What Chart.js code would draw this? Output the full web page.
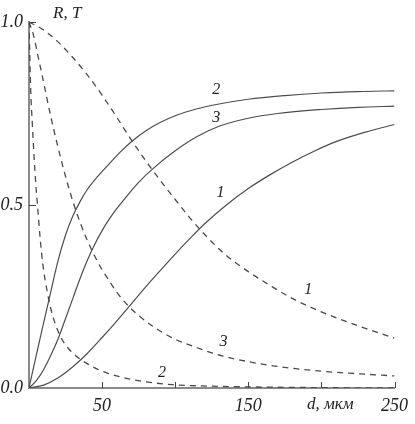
<!DOCTYPE html>
<html>
<head>
<meta charset="utf-8">
<script src="https://cdn.jsdelivr.net/npm/chart.js@4/dist/chart.umd.min.js"></script>
<style>
  html, body { margin: 0; padding: 0; background: #fff; }
  #wrap { width: 415px; height: 424px; position: relative; }
</style>
</head>
<body>
<div id="wrap"><canvas id="rt"></canvas></div>
<script>
// ---- data (d in mkm, value R or T) ----
const r1Depth = [0, 10, 20, 30, 40, 50, 60, 70, 80, 90, 100, 110, 120, 135, 150, 165, 180, 195, 210, 230, 250];
const r1Value = [0, 0.008, 0.028, 0.058, 0.095, 0.138, 0.183, 0.23, 0.277, 0.322, 0.366, 0.408, 0.448, 0.50, 0.545, 0.583, 0.617, 0.647, 0.673, 0.699, 0.72];

const r2Depth = [0, 5, 10, 15, 20, 25, 30, 35, 40, 47, 55, 62, 70, 80, 90, 100, 115, 130, 150, 175, 200, 225, 250];
const r2Value = [0, 0.09, 0.178, 0.265, 0.35, 0.418, 0.47, 0.51, 0.543, 0.578, 0.613, 0.643, 0.673, 0.703, 0.726, 0.744, 0.763, 0.776, 0.789, 0.799, 0.806, 0.81, 0.812];

const r3Depth = [0, 5, 10, 15, 20, 25, 30, 35, 40, 45, 50, 55, 60, 65, 75, 85, 100, 115, 130, 150, 170, 200, 225, 250];
const r3Value = [0, 0.02, 0.05, 0.09, 0.135, 0.19, 0.245, 0.30, 0.35, 0.393, 0.43, 0.462, 0.49, 0.515, 0.562, 0.60, 0.648, 0.687, 0.715, 0.737, 0.75, 0.761, 0.767, 0.77];

const t1Depth = [0, 10, 20, 30, 40, 50, 60, 70, 80, 90, 100, 110, 120, 135, 150, 165, 180, 200, 225, 250];
const t1Value = [1.0, 0.978, 0.945, 0.903, 0.855, 0.80, 0.74, 0.678, 0.62, 0.566, 0.515, 0.465, 0.42, 0.362, 0.318, 0.28, 0.245, 0.208, 0.17, 0.136];

const t2Depth = [0, 1.2, 2.3, 3.5, 4.6, 5.8, 7.6, 9.4, 12.6, 16, 21.6, 27, 33, 45, 54, 65, 78, 98, 125, 150, 200, 250];
const t2Value = [1.0, 0.81, 0.72, 0.63, 0.56, 0.50, 0.41, 0.34, 0.26, 0.20, 0.14, 0.108, 0.085, 0.055, 0.04, 0.028, 0.018, 0.009, 0.005, 0.003, 0.001, 0.0];

const t3Depth = [0, 3, 6, 10, 15, 20, 25, 30, 35, 40, 45, 50, 55, 60, 67, 75, 85, 98, 115, 132, 150, 168, 200, 225, 250];
const t3Value = [1.0, 0.965, 0.91, 0.835, 0.74, 0.655, 0.578, 0.51, 0.452, 0.402, 0.36, 0.323, 0.292, 0.262, 0.228, 0.198, 0.168, 0.137, 0.11, 0.088, 0.072, 0.06, 0.046, 0.039, 0.033];

const xTickValues = [50, 100, 150, 200, 250];
const xTickLabels = ['50', '150', '250'];
const yTickValues = [0, 0.5, 1.0];

// curve numbers, anchored in data units
const curveTags = [
    { text: '2', d: 128, v: 0.814 },
    { text: '3', d: 128, v: 0.738 },
    { text: '1', d: 131, v: 0.533 },
    { text: '1', d: 191, v: 0.268 },
    { text: '3', d: 133, v: 0.126 },
    { text: '2', d: 91, v: 0.041 }
];

const SERIF = '"Liberation Serif", "DejaVu Serif", serif';
const AXIS_GREY = '#8a8a8a';

function toPoints(xs, ys) {
    return xs.map((x, i) => ({ x: x, y: ys[i] }));
}

function curve(xs, ys, dashed) {
    return {
        data: toPoints(xs, ys),
        borderColor: dashed ? '#4a4a4a' : '#4d4d4d',
        borderWidth: dashed ? 1.3 : 1.2,
        borderDash: dashed ? [6, 5] : [],
        pointRadius: 0,
        fill: false,
        cubicInterpolationMode: 'monotone'
    };
}

// inward tick marks, axis titles and curve numbers
const decorPlugin = {
    id: 'decor',
    afterDraw(chart) {
        const { ctx, chartArea, scales } = chart;
        const xs = scales.x, ys = scales.y;
        ctx.save();
        ctx.strokeStyle = '#444';
        ctx.lineWidth = 1;
        xTickValues.forEach(v => {
            const px = Math.round(xs.getPixelForValue(v)) + 0.5;
            ctx.beginPath();
            ctx.moveTo(px, chartArea.bottom);
            ctx.lineTo(px, chartArea.bottom - 6);
            ctx.stroke();
        });
        [0.5, 1.0].forEach(v => {
            const py = Math.round(ys.getPixelForValue(v)) + 0.5;
            ctx.beginPath();
            ctx.moveTo(chartArea.left, py);
            ctx.lineTo(chartArea.left + 7, py);
            ctx.stroke();
        });

        ctx.fillStyle = '#222';
        ctx.textBaseline = 'middle';
        ctx.textAlign = 'left';
        ctx.font = 'italic 17px ' + SERIF;
        ctx.fillText('R, T', chartArea.left + 24, 14);
        ctx.fillText('d, мкм', chartArea.left + 278, 405);

        ctx.textAlign = 'center';
        ctx.font = 'italic 16px ' + SERIF;
        curveTags.forEach(t => {
            ctx.fillText(t.text, xs.getPixelForValue(t.d), ys.getPixelForValue(t.v));
        });
        ctx.restore();
    }
};

new Chart(document.getElementById('rt'), {
    type: 'line',
    data: {
        datasets: [
            curve(r1Depth, r1Value, false),
            curve(r2Depth, r2Value, false),
            curve(r3Depth, r3Value, false),
            curve(t1Depth, t1Value, true),
            curve(t2Depth, t2Value, true),
            curve(t3Depth, t3Value, true)
        ]
    },
    options: {
        responsive: true,
        maintainAspectRatio: false,
        animation: false,
        layout: { padding: { left: 0, right: 18, top: 22, bottom: 0 } },
        plugins: { legend: { display: false }, tooltip: { enabled: false } },
        scales: {
            x: {
                type: 'linear',
                min: 0,
                max: 250,
                afterFit: s => { s.height = 36; },
                afterBuildTicks: s => { s.ticks = xTickValues.map(v => ({ value: v })); },
                grid: { drawOnChartArea: false, drawTicks: false },
                border: { color: AXIS_GREY, width: 2 },
                ticks: {
                    autoSkip: false,
                    maxRotation: 0,
                    padding: 7,
                    color: '#222',
                    font: { family: SERIF, size: 18, style: 'italic' },
                    callback: v => xTickLabels.includes(String(v)) ? String(v) : ''
                }
            },
            y: {
                min: 0,
                max: 1,
                afterFit: s => { s.width = 29; },
                afterBuildTicks: s => { s.ticks = yTickValues.map(v => ({ value: v })); },
                grid: { drawOnChartArea: false, drawTicks: false },
                border: { color: AXIS_GREY, width: 2 },
                ticks: {
                    padding: 6,
                    color: '#222',
                    font: { family: SERIF, size: 18, style: 'italic' },
                    callback: v => v.toFixed(1)
                }
            }
        }
    },
    plugins: [decorPlugin]
});
</script>
</body>
</html>
